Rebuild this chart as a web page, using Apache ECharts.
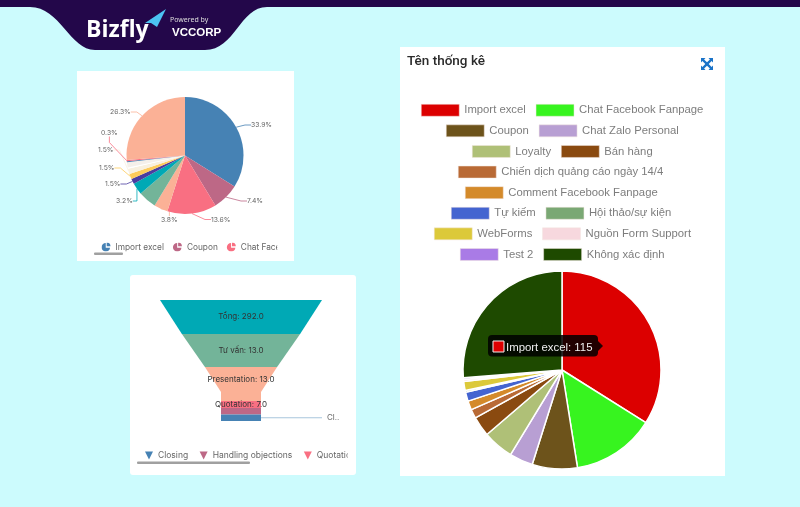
<!DOCTYPE html>
<html>
<head>
<meta charset="utf-8">
<title>Tên thống kê</title>
<script src="https://cdn.jsdelivr.net/npm/echarts@6/dist/echarts.min.js"></script>
<style>
html,body{margin:0;padding:0;background:#ccfbfd;}
#main{width:800px;height:507px;}
</style>
</head>
<body>
<div id="main"></div>
<script>
// data
var chartTitle = 'Tên thống kê';
var rightNames = ['Import excel','Chat Facebook Fanpage','Coupon','Chat Zalo Personal','Loyalty','Bán hàng','Chiến dịch quảng cáo ngày 14/4','Comment Facebook Fanpage','Tự kiếm','Hội thảo/sự kiện','WebForms','Nguồn Form Support','Test 2','Không xác định'];
var rightValues = [115,46,25,13,17,11,5,5,5,1,5,1,1,89];
var leftNames = ['Import excel','Coupon','Chat Facebook Fanpage','Chat Zalo Personal','Loyalty','Bán hàng','Chiến dịch quảng cáo ngày 14/4','Comment Facebook Fanpage','Tự kiếm','Hội thảo/sự kiện','WebForms','Nguồn Form Support','Test 2','Không xác định'];
var leftValues = [115,25,46,13,17,11,5,5,5,1,5,1,1,89];
var leftHidden = ['Loyalty','Hội thảo/sự kiện','WebForms','Nguồn Form Support'];
var leftLegend = ['Import excel','Coupon','Chat Facebook Fanpage'];
var funnelNames = ['Tổng','Tư vấn','Presentation','Presentation ','Quotation','Handling objections','Closing'];
var funnelDrawn = [292,213,130,72,72,72,72];   // widths as drawn, they do not follow the labels
var funnelShown = [292,13,13,null,7,null,null];
var funnelLegend = ['Closing','Handling objections','Quotation'];
var legendRows = [
	['Import excel','Chat Facebook Fanpage'],
	['Coupon','Chat Zalo Personal'],
	['Loyalty','Bán hàng'],
	['Chiến dịch quảng cáo ngày 14/4'],
	['Comment Facebook Fanpage'],
	['Tự kiếm','Hội thảo/sự kiện'],
	['WebForms','Nguồn Form Support'],
	['Test 2','Không xác định']
];

var rightColors = ['#dc0000','#37f41f','#6d531b','#b89fd3','#afc077','#8a4a10','#b96a35','#d48a2a','#4464d0','#7aa874','#dcc93a','#f7d8de','#a97be6','#1e4a00'];
var leftColors = ['#4682b4','#bd6886','#f96f82','#fbb196','#73b499','#00a9b5','#4a3ca0','#fdcb5a','#f8f0df','#ffffff','#f5f0ea','#4682b4','#f96f82','#fbb196'];
var funnelColors = ['#00a9b5','#73b499','#fbb196','#fbb196','#f96f82','#bd6886','#4682b4'];
var funnelHeights = [34,33,25,9,7,6.5,6.5];
var rowLeft = [421,446,472,458,465,451,434,460];
// where the labels of the small pie sit, by slice index
var labelSpots = {0:[251,125],1:[247,201],2:[211,219.5],3:[161,219.5],5:[116,201],6:[105,184],7:[99,168],8:[98,150],12:[101,133],13:[110,112]};
var pieIcon = 'path://M9 1A9 9 0 1 0 18 11L9 11Z M11 0A8 8 0 0 1 19 8L11 8Z';
var triIcon = 'path://M0 0L10 0L5 10Z';
var smallFont = 'Inter';

echarts.graphic.registerShape('headerBand', echarts.graphic.extendPath('M0 0H800V7H267C240 7 235 50 205 50H95C70 50 60 7 30 7H0Z'));
echarts.graphic.registerShape('expandIcon', echarts.graphic.extendPath('M701 58h4.5l-1.4 1.4 2.9 2.9 2.9-2.9L708.5 58h4.500v4.500l-1.400-1.400-2.900 2.900 2.900 2.900 1.400-1.400V70h-4.500l1.400-1.400-2.900-2.900-2.900 2.900 1.400 1.400H701v-4.500l1.400 1.400 2.900-2.900-2.900-2.900-1.400 1.400Z'));

var myChart = echarts.init(document.getElementById('main'));

var legends = [];
for (var r = 0; r < legendRows.length; r++) {
	legends.push({
		left: rowLeft[r],
		top: 104 + r * 20.6,
		padding: 0,
		orient: 'horizontal',
		itemWidth: 38,
		itemHeight: 12,
		itemGap: 10,
		icon: 'rect',
		selectedMode: false,
		textStyle: {fontFamily: 'Liberation Sans', fontSize: 11.3, color: '#7d7d7d'},
		data: legendRows[r].map(function(n){
			return {name: n, itemStyle: {color: rightColors[rightNames.indexOf(n)], borderColor: '#f2e6e0', borderWidth: 0.5}};
		})
	});
}
legends.push({
	type: 'scroll', left: 101.5, top: 242.5, width: 178, padding: 0, itemWidth: 9, itemHeight: 10, itemGap: 9,
	pageIconSize: 0, pageButtonGap: 0, pageButtonItemGap: 0, selectedMode: false,
	pageFormatter: function(){ return ' '; },
	pageTextStyle: {fontSize: 1},
	textStyle: {fontFamily: smallFont, fontSize: 8.3, color: '#666'},
	data: leftLegend.map(function(n){
		return {name: n, icon: pieIcon, itemStyle: {color: leftColors[leftNames.indexOf(n)]}};
	})
});
legends.push({
	type: 'scroll', left: 145, top: 451, width: 205, padding: 0, itemWidth: 8, itemHeight: 8, itemGap: 11.5,
	pageIconSize: 0, pageButtonGap: 0, pageButtonItemGap: 0, selectedMode: false,
	pageFormatter: function(){ return ' '; },
	pageTextStyle: {fontSize: 1},
	textStyle: {fontFamily: smallFont, fontSize: 8.5, color: '#666'},
	data: funnelLegend.map(function(n){
		return {name: n, icon: triIcon, itemStyle: {color: funnelColors[funnelNames.indexOf(n)]}};
	})
});

option = {
	animation: false,
	backgroundColor: '#ccfbfd',
	legend: legends,
	graphic: [
		// header
		{type:'headerBand', z:-1, style:{fill:'#23074a'}},
		{type:'text', z:5, style:{x:86, y:19, text:'Bizfly', fill:'#fff', font:'bold 23px "Open Sans"'}},
		{type:'polygon', z:5, shape:{points:[[145,23],[166,9],[157,27],[151,23]]}, style:{fill:'#4cc3f2'}},
		{type:'text', z:5, style:{x:170, y:16, text:'Powered by', fill:'#ddd', font:'7px "Noto Sans"'}},
		{type:'text', z:5, style:{x:172, y:27, text:'VCCORP', fill:'#fff', font:'bold 11.5px "Liberation Sans"'}},
		// cards
		{type:'rect', z:-1, shape:{x:77,y:71,width:217,height:190}, style:{fill:'#fff'}},
		{type:'rect', z:-1, shape:{x:130,y:275,width:226,height:200,r:3}, style:{fill:'#fff'}},
		{type:'rect', z:-1, shape:{x:400,y:47,width:325,height:429}, style:{fill:'#fff'}},
		// scroll bars under the small legends
		{type:'rect', z:5, shape:{x:94,y:252.5,width:29,height:2.5,r:1}, style:{fill:'#a0a0a0'}},
		{type:'rect', z:5, shape:{x:137,y:461.5,width:113,height:2.5,r:1}, style:{fill:'#a0a0a0'}},
		// title and expand icon
		{type:'text', z:5, style:{x:407, y:55, text:chartTitle, fill:'#2b2b2b', font:'500 13.5px Roboto'}},
		{type:'expandIcon', z:5, style:{fill:'#1a73c8'}},
		// tooltip of the big pie
		{type:'rect', z:20, shape:{x:488,y:335,width:110,height:21.5,r:4}, style:{fill:'rgba(0,0,0,0.85)'}},
		{type:'polygon', z:20, shape:{points:[[598,341],[603,346],[598,351]]}, style:{fill:'rgba(0,0,0,0.85)'}},
		{type:'rect', z:21, shape:{x:493,y:341,width:11,height:11}, style:{fill:rightColors[0], stroke:'#eee', lineWidth:1}},
		{type:'text', z:21, style:{x:506, y:342, text:rightNames[0] + ': ' + rightValues[0], fill:'#eee', font:'11.4px "Liberation Sans"'}}
	],
	series: [
		{
			type: 'pie',
			center: [185,155.5],
			radius: [0,58.5],
			startAngle: 90,
			avoidLabelOverlap: false,
			label: {
				fontFamily: smallFont, fontSize: 6.8, color: '#666',
				formatter: function(p){ return p.percent.toFixed(1) + '%'; }
			},
			labelLine: {length: 5, length2: 6, lineStyle: {width: 0.8}},
			labelLayout: function(p){
				var s = labelSpots[p.dataIndex];
				if (!s) return {};
				return {x: s[0], y: s[1], align: 'left', verticalAlign: 'middle'};
			},
			data: leftNames.map(function(n,i){
				var item = {name: n, value: leftValues[i], itemStyle: {color: leftColors[i]}};
				if (leftHidden.indexOf(n) >= 0) {
					item.label = {show: false};
					item.labelLine = {show: false};
				}
				return item;
			})
		},
		{
			type: 'pie',
			center: [562,370],
			radius: [0,99],
			startAngle: 90,
			label: {show: false},
			labelLine: {show: false},
			itemStyle: {borderColor: '#fff', borderWidth: 1.5},
			data: rightNames.map(function(n,i){
				return {name: n, value: rightValues[i], itemStyle: {color: rightColors[i]}};
			})
		},
		{
			type: 'funnel',
			left: 160, top: 300, width: 162, height: 121,
			min: 72, max: 292, minSize: 40, maxSize: 162,
			sort: 'none',
			gap: 0,
			itemStyle: {borderWidth: 0},
			label: {show: false},
			labelLine: {show: false},
			data: funnelNames.map(function(n,i){
				var item = {name: n, value: funnelDrawn[i], itemStyle: {color: funnelColors[i], borderWidth: 0, height: funnelHeights[i]}};
				if (funnelShown[i] != null) {
					item.label = {
						show: true, position: 'inside', color: '#333', fontFamily: smallFont, fontSize: 8,
						formatter: n + ': ' + funnelShown[i].toFixed(1)
					};
					if (n == 'Presentation') item.label.offset = [0,4.5];
				}
				if (n == 'Closing') {
					item.label = {show: true, position: 'right', color: '#666', fontFamily: smallFont, fontSize: 8, formatter: 'Cl..'};
					item.labelLine = {show: true, length: 61, lineStyle: {color: '#a9c6dc', width: 1}};
				}
				return item;
			})
		}
	]
};
myChart.setOption(option);
</script>
</body>
</html>
